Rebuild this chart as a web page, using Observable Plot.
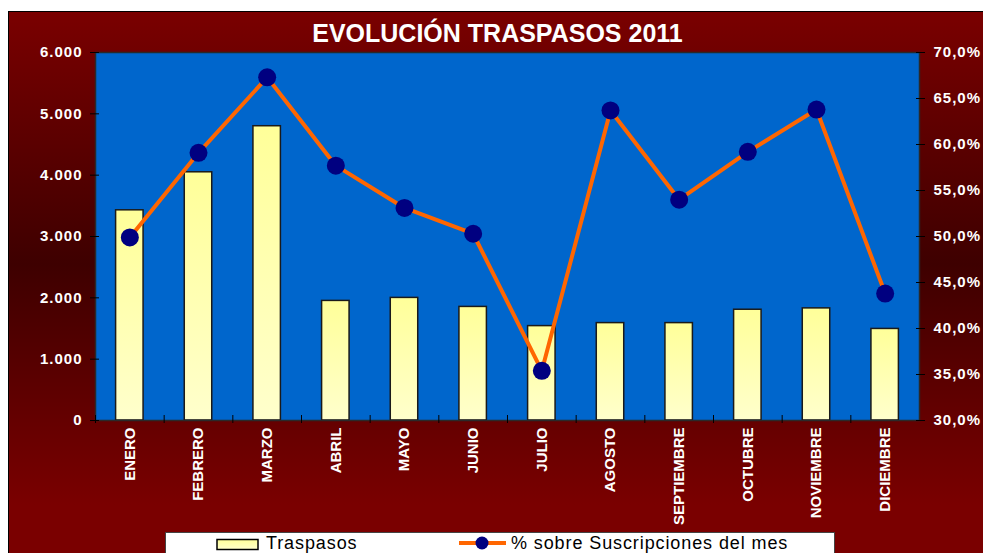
<!DOCTYPE html>
<html>
<head>
<meta charset="utf-8">
<script src="https://cdn.jsdelivr.net/npm/d3@7"></script>
<script src="https://cdn.jsdelivr.net/npm/@observablehq/plot@0.6"></script>
<style>
  html, body { margin: 0; padding: 0; width: 983px; height: 553px; overflow: hidden; background: #fff; font-family: Arial, "Liberation Sans", sans-serif; }
  #box { position: absolute; left: 8px; top: 11px; width: 990px; height: 560px;
         background: linear-gradient(to bottom, #7a0000 0%, #3e0000 45%, #7a0000 88%, #7a0000 100%);
         border-top: 1px solid #000; border-left: 1px solid #000; }
  #title { position: absolute; left: 8px; top: 20.5px; width: 979px; text-align: center;
           font: bold 25px Arial, "Liberation Sans", sans-serif; line-height: 25px; color: #fff; }
  #chart { position: absolute; left: 0; top: 0; }
  #chart svg [aria-label="y-axis tick label"] text { letter-spacing: 1px; }
  #legend { position: absolute; left: 165px; top: 532px; }
</style>
</head>
<body>
<div id="box"></div>
<div id="title"></div>
<div id="chart"></div>
<div id="legend"></div>
<script>
const title = "EVOLUCIÓN TRASPASOS 2011";
const seriesNames = ["Traspasos", "% sobre Suscripciones del mes"];
const months = ["ENERO","FEBRERO","MARZO","ABRIL","MAYO","JUNIO","JULIO","AGOSTO","SEPTIEMBRE","OCTUBRE","NOVIEMBRE","DICIEMBRE"];
const traspasos = [3427, 4047, 4798, 1950, 1999, 1852, 1539, 1588, 1588, 1806, 1828, 1493];
const porcentaje = [49.9, 59.1, 67.3, 57.7, 53.1, 50.3, 35.4, 63.7, 54.0, 59.2, 63.8, 43.8];
const leftTicks = [0, 1000, 2000, 3000, 4000, 5000, 6000];
const rightTicks = [30, 35, 40, 45, 50, 55, 60, 65, 70];

const Y_MAX = 6000, P_MIN = 30, P_MAX = 70;
const pctToY = p => (p - P_MIN) / (P_MAX - P_MIN) * Y_MAX;
const yToPct = y => y / Y_MAX * (P_MAX - P_MIN) + P_MIN;

const es = d3.formatLocale({decimal: ",", thousands: ".", grouping: [3], currency: ["", " €"]});
const fmtThousands = es.format(",.0f");
const fmtPct1 = es.format(".1f");

const data = months.map((m, i) => ({mes: m, traspasos: traspasos[i], pct: porcentaje[i]}));

const W = 983, H = 553, ML = 95, MR = 64, MT = 52, MB = 133;
const step = (W - ML - MR) / months.length;

const chart = Plot.plot({
  width: W, height: H,
  marginLeft: ML, marginRight: MR, marginTop: MT, marginBottom: MB,
  style: {background: "transparent", fontFamily: 'Arial, "Liberation Sans", sans-serif', overflow: "visible"},
  x: {domain: months, paddingInner: 0.6, paddingOuter: 0.3, round: false, axis: null},
  y: {domain: [0, Y_MAX], axis: null},
  marks: [
    Plot.frame({fill: "#0066CC"}),
    Plot.barY(data, {x: "mes", y: "traspasos", fill: "url(#barGrad)", stroke: "#1a1a1a", strokeWidth: 1.5}),
    Plot.line(data, {x: "mes", y: d => pctToY(d.pct), stroke: "#FF6600", strokeWidth: 4}),
    Plot.dot(data, {x: "mes", y: d => pctToY(d.pct), r: 9, fill: "#000080", stroke: null}),
    Plot.frame({stroke: "#2a2a2a", strokeWidth: 1.5}),
    Plot.axisY(leftTicks, {anchor: "left", label: null, tickSize: 9, dx: 4, tickPadding: 8, tickFormat: fmtThousands,
      fill: "white", stroke: "black", fontSize: 15, fontWeight: "bold"}),
    Plot.axisY(rightTicks.map(pctToY), {anchor: "right", label: null, tickSize: 9, dx: -4, tickPadding: 9,
      tickFormat: d => fmtPct1(yToPct(d)) + "%", fill: "white", stroke: "black", fontSize: 15, fontWeight: "bold"}),
    Plot.axisX({anchor: "bottom", label: null, tickSize: 8, dy: -5, dx: -step / 2, tickFormat: () => "", stroke: "black"}),
    Plot.axisX({anchor: "bottom", label: null, tickSize: 0, tickPadding: 7, tickRotate: -90, fill: "white", fontSize: 15, fontWeight: "bold"})
  ]
});

d3.select(chart).insert("defs", ":first-child").html(
  '<linearGradient id="barGrad" x1="0" y1="0" x2="0" y2="1">' +
  '<stop offset="0" stop-color="#ffff99"/><stop offset="1" stop-color="#ffffcc"/></linearGradient>');

document.getElementById("chart").appendChild(chart);
document.getElementById("title").textContent = title;

// Legend (single SVG, positioned below the plot)
const lg = d3.select("#legend").append("svg").attr("width", 672).attr("height", 24)
  .style("font-family", 'Arial, "Liberation Sans", sans-serif');
lg.append("rect").attr("x", 0.5).attr("y", 0.5).attr("width", 669).attr("height", 30)
  .attr("fill", "#fff").attr("stroke", "#444");
lg.append("rect").attr("x", 52).attr("y", 7.5).attr("width", 41).attr("height", 10)
  .attr("fill", "url(#barGrad2)").attr("stroke", "#000").attr("stroke-width", 1.5);
lg.append("defs").html('<linearGradient id="barGrad2" x1="0" y1="0" x2="0" y2="1">' +
  '<stop offset="0" stop-color="#ffff99"/><stop offset="1" stop-color="#ffffcc"/></linearGradient>');
lg.append("text").attr("x", 101).attr("y", 17).attr("font-size", 18).attr("letter-spacing", 0.9)
  .attr("fill", "#000").text(seriesNames[0]);
lg.append("line").attr("x1", 294).attr("x2", 341).attr("y1", 11).attr("y2", 11)
  .attr("stroke", "#FF6600").attr("stroke-width", 4);
lg.append("circle").attr("cx", 317).attr("cy", 11).attr("r", 6.5).attr("fill", "#000080");
lg.append("text").attr("x", 346).attr("y", 17).attr("font-size", 18).attr("letter-spacing", 0.9)
  .attr("fill", "#000").text(seriesNames[1]);
</script>
</body>
</html>
